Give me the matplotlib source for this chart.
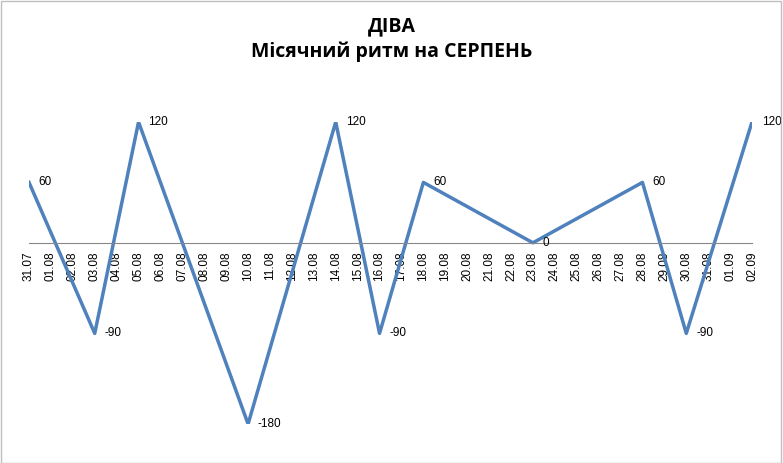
import matplotlib
matplotlib.use("Agg")
import matplotlib.pyplot as plt

dates = ["31.07"] + [f"{d:02d}.08" for d in range(1, 32)] + ["01.09", "02.09"]
key_dates = ["31.07", "03.08", "05.08", "10.08", "14.08", "16.08", "18.08", "23.08", "28.08", "30.08", "02.09"]
key_values = [60, -90, 120, -180, 120, -90, 60, 0, 60, -90, 120]

fig = plt.figure(figsize=(7.83, 4.63), dpi=100)
fig.patches.append(plt.Rectangle((0.001, 0.001), 0.997, 0.997, transform=fig.transFigure,
                                 fill=False, edgecolor="#bfbfbf", linewidth=1))
ax = fig.add_axes([29/783, 1-424/463, (752-29)/783, (424-122)/463])
for s in ["top", "right", "left"]:
    ax.spines[s].set_visible(False)
ax.spines["bottom"].set_position(("data", 0))
ax.spines["bottom"].set_color("#888888")
ax.spines["bottom"].set_linewidth(0.8)
xs = [dates.index(d) for d in key_dates]
ax.plot(xs, key_values, color="#4f81bd", linewidth=2.5)
for x, v in zip(xs, key_values):
    ax.text(x + 0.45, v, str(v), fontsize=8.5, va="center", ha="left", family="Liberation Sans")
ax.set_xlim(0, len(dates) - 1)
ax.set_ylim(-180, 120)
ax.set_xticks(range(len(dates)))
ax.set_xticklabels(dates, rotation=90, fontsize=8.5, family="Liberation Sans")
ax.tick_params(axis="x", length=0, pad=6)
ax.set_yticks([])
ax.patch.set_alpha(0)
fig.text(0.5, 0.915, "ДІВА\nМісячний ритм на СЕРПЕНЬ", ha="center", va="center",
         fontsize=14, fontweight="bold", family="Open Sans", linespacing=1.35)
fig.savefig("out.png", dpi=100)
